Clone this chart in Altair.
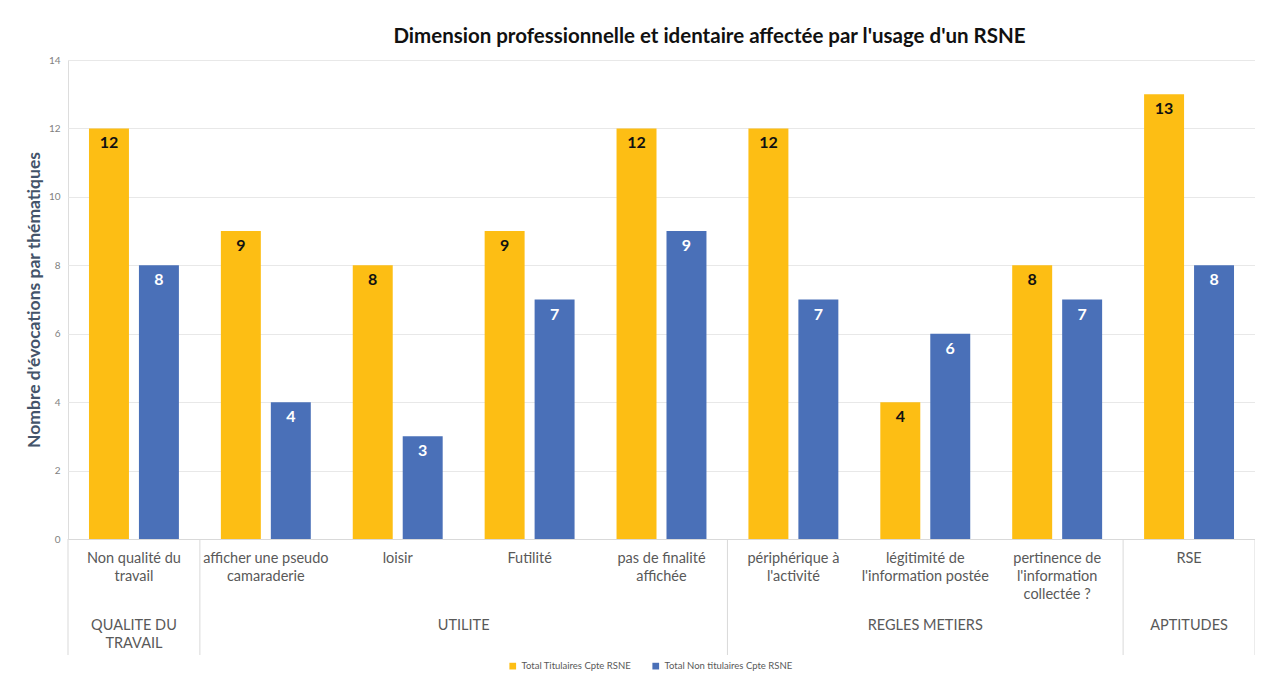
import altair as alt
import pandas as pd

categories = [
    "Non qualité du\ntravail",
    "afficher une pseudo\ncamaraderie",
    "loisir",
    "Futilité",
    "pas de finalité\naffichée",
    "périphérique à\nl'activité",
    "légitimité  de\nl'information postée",
    "pertinence de\nl'information\ncollectée ?",
    "RSE",
]
titulaires = [12, 9, 8, 9, 12, 12, 4, 8, 13]
non_titulaires = [8, 4, 3, 7, 9, 7, 6, 7, 8]
series_names = ["Total Titulaires Cpte RSNE", "Total Non titulaires Cpte RSNE"]
groups = ["QUALITE DU\nTRAVAIL", "UTILITE", "REGLES METIERS", "APTITUDES"]
group_sizes = [1, 4, 3, 1]
y_ticks = [0, 2, 4, 6, 8, 10, 12, 14]

FONT = "Lato"
YELLOW = "#FDBE14"
BLUE = "#4A70B8"

rows = []
for c, a, b in zip(categories, titulaires, non_titulaires):
    rows.append({"cat": c, "series": series_names[0], "value": a})
    rows.append({"cat": c, "series": series_names[1], "value": b})
df = pd.DataFrame(rows)
df_cats = pd.DataFrame({"cat": categories})

starts = [0]
for s in group_sizes:
    starts.append(starts[-1] + s)
df_groups = pd.DataFrame({
    "group": groups,
    "center": [(starts[i] + starts[i + 1]) / 2 for i in range(len(groups))],
})
df_sep = pd.DataFrame({"pos": starts})

W, H = 1187, 479

xband = alt.X("cat:N", sort=categories,
              scale=alt.Scale(paddingInner=0, paddingOuter=0),
              axis=alt.Axis(labels=False, ticks=False, title=None, grid=False,
                            domainColor="#D9D9D9"))
xoff = alt.XOffset("series:N", sort=series_names,
                   scale=alt.Scale(paddingInner=0.2, paddingOuter=0.42))
yq = alt.Y("value:Q", scale=alt.Scale(domain=[0, 14], nice=False),
           axis=alt.Axis(values=y_ticks, grid=True, gridColor="#E8E8E8",
                         domain=False, ticks=False, labelColor="#7F7F7F",
                         labelFontSize=10, labelFont=FONT, labelPadding=8,
                         title="Nombre d'évocations par thématiques",
                         titleFont=FONT, titleFontSize=17.5, titleFontWeight="bold",
                         titleColor="#44546A", titlePadding=5))

bars = alt.Chart(df).mark_bar().encode(
    x=xband, xOffset=xoff, y=yq,
    color=alt.Color("series:N", sort=series_names,
                    scale=alt.Scale(domain=series_names, range=[YELLOW, BLUE]),
                    legend=alt.Legend(title=None, orient="none", direction="horizontal",
                                      legendX=440, legendY=601, symbolType="square",
                                      symbolSize=45, labelFontSize=9.5, labelFont=FONT,
                                      labelColor="#595959", columnPadding=20,
                                      symbolStrokeWidth=0)),
)

bar_labels = alt.Chart(df).mark_text(baseline="middle", dy=15, fontSize=16,
                                     fontWeight="bold", font=FONT).encode(
    x=xband, xOffset=xoff, y=yq,
    text=alt.Text("value:Q"),
    color=alt.condition(alt.datum.series == series_names[0],
                        alt.value("#111111"), alt.value("white")),
)

cat_labels = alt.Chart(df_cats).mark_text(baseline="top", align="center", fontSize=14.5,
                                          font=FONT, color="#595959",
                                          lineBreak="\n", lineHeight=18).encode(
    x=xband, y=alt.value(H + 13), text="cat:N",
)

band_layer = alt.layer(bars, bar_labels, cat_labels)

xq = alt.Scale(domain=[0, len(categories)], nice=False, zero=False)
group_labels = alt.Chart(df_groups).mark_text(baseline="top", align="center", fontSize=14.5,
                                              font=FONT, color="#595959",
                                              lineBreak="\n", lineHeight=18).encode(
    x=alt.X("center:Q", scale=xq, axis=None), y=alt.value(H + 80), text="group:N",
)
separators = alt.Chart(df_sep).mark_rule(color="#D9D9D9", strokeWidth=1).encode(
    x=alt.X("pos:Q", scale=xq, axis=None), y=alt.value(H), y2=alt.value(H + 116),
)

chart = alt.layer(band_layer, alt.layer(separators, group_labels)).resolve_scale(
    x="independent"
).properties(
    width=W, height=H,
    title=alt.TitleParams("Dimension professionnelle et identaire affectée par l'usage d'un RSNE",
                          font=FONT, fontSize=20.5, fontWeight="bold", color="#111111",
                          anchor="middle", dx=48, offset=8),
    autosize=alt.AutoSizeParams(type="none"),
    padding={"left": 60, "top": 52, "right": 0, "bottom": 133},
).configure_view(stroke=None).configure(background="white")

chart.save("out.html", embed_options={"renderer": "svg", "actions": False})
